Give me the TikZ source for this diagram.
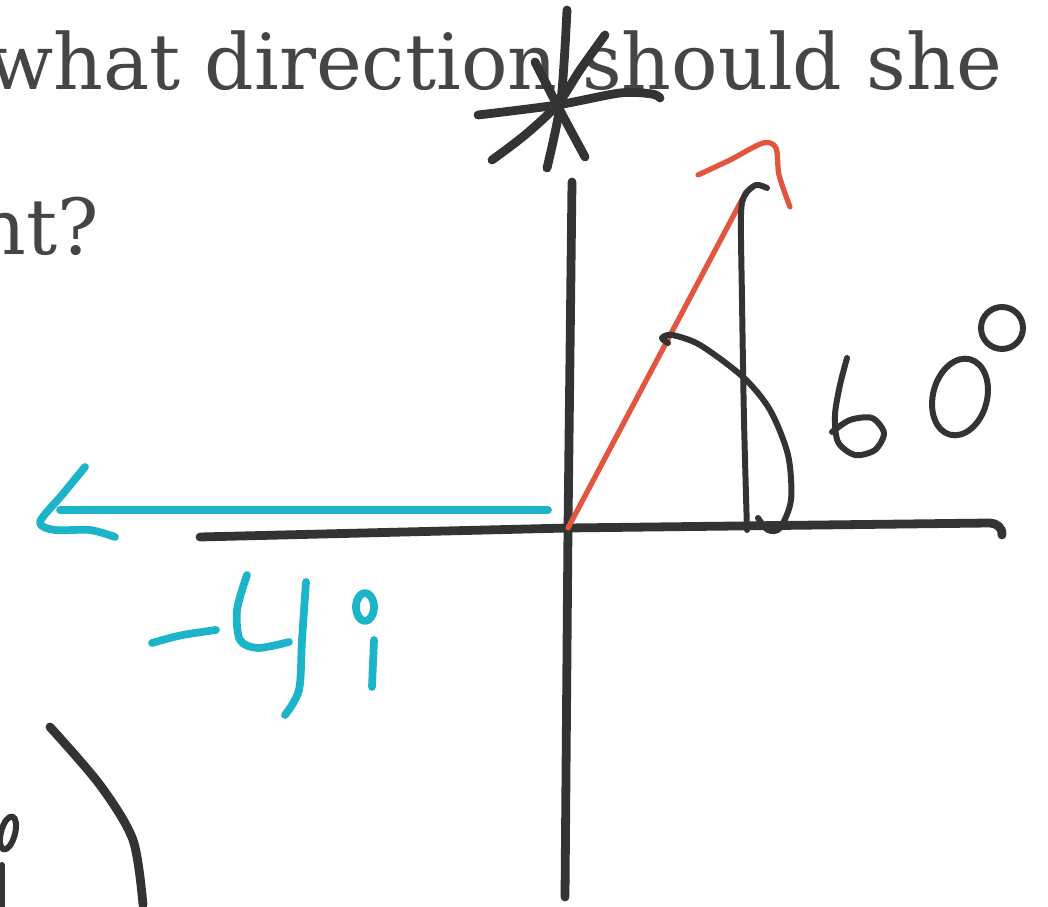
\documentclass[tikz,border=0pt]{standalone}
\usepackage{fontspec}
\newfontfamily\qfont{DejaVu Serif}
\usetikzlibrary{positioning}
\definecolor{inkblack}{HTML}{333333}
\definecolor{inkcyan}{HTML}{1BB4C8}
\definecolor{inkred}{HTML}{E4553F}
\definecolor{textgray}{HTML}{454545}
\tikzset{
  ink/.style      = {draw=inkblack, line width=2.5pt,
                     line cap=round, line join=round},
  thinink/.style  = {ink, line width=1.7pt},
  cyanink/.style  = {draw=inkcyan, line width=2.2pt,
                     line cap=round, line join=round},
  redink/.style   = {draw=inkred, line width=1.5pt,
                     line cap=round, line join=round},
  question/.style = {inner sep=0pt, text=textgray,
                     font=\qfont\fontsize{22}{26}\selectfont},
}

\begin{document}
\begin{tikzpicture}[x=0.01cm, y=-0.01cm]
\useasboundingbox (0,0) rectangle (1048,907);
\clip (0,0) rectangle (1048,907);

% ------------------------------------------------------------
%  printed question (cut off at the left edge)
% ------------------------------------------------------------
\node[question, anchor=base east] (line1) at (1003,90) {what direction should she};
\node[question, anchor=base east] (line2) at (100,255) {nt?};

% ------------------------------------------------------------
%  star at the top of the axis
% ------------------------------------------------------------
\coordinate (star) at (557,105);
\draw[ink] plot[smooth] coordinates {(567,10) (561,100) (547,168)};
\draw[ink] plot[smooth] coordinates {(605,35) (580,70) (star) (525,135) (492,160)};
\draw[ink] (535,62) -- (star) -- (585,157);
\draw[ink] plot[smooth] coordinates {(478,115) (star) (620,93) (652,94) (660,98)};

% ------------------------------------------------------------
%  axes
% ------------------------------------------------------------
\coordinate (O) at (568,528);
\draw[ink] (200,537) -- (O) -- (990,523) to[out=0,in=80] (1002,535);
\draw[ink] (572,182) -- (O) -- (565,897);

% ------------------------------------------------------------
%  red vector and the 60 degree angle
% ------------------------------------------------------------
\coordinate (tip) at (746,192);
\draw[redink] (O) -- (tip);
\draw[redink] plot[smooth] coordinates {(698,175) (730,160) (763,143) (776,148) (779,175) (790,207)};

\draw[thinink] plot[smooth] coordinates {(767,188) (756,185) (745,195) (741,215) (742,300) (744,420) (747,530)};
\draw[thinink] plot[smooth] coordinates {(668,343) (662,338) (672,335) (700,345) (743,377) (770,410) (788,455) (791,500) (780,528) (768,530) (758,518)};

% handwritten 60 deg
\draw[thinink] plot[smooth] coordinates {(847,358) (840,385) (835,415) (838,442) (855,455) (875,450) (884,433) (872,418) (850,420) (832,432)};
\draw[thinink, rotate around={-15:(960,397)}] (960,397) ellipse [x radius=27, y radius=39];
\draw[thinink] (1002,328) circle [radius=21];

% ------------------------------------------------------------
%  cyan vector -4i
% ------------------------------------------------------------
\coordinate (head) at (60,510);
\draw[cyanink] (548,510) -- (head);
\draw[cyanink] plot[smooth] coordinates {(85,467) (62,495) (40,522) (55,530) (90,530) (115,537)};

\draw[cyanink] (152,643) .. controls (180,635) .. (216,630);
\draw[cyanink] plot[smooth] coordinates {(247,575) (237,610) (240,640) (258,648) (289,642)};
\draw[cyanink] plot[smooth] coordinates {(306,582) (302,640) (299,690) (285,715)};
\draw[cyanink] (365,607) ellipse [x radius=9, y radius=14];
\draw[cyanink] (374,640) -- (372,687);

% ------------------------------------------------------------
%  bottom left scraps
% ------------------------------------------------------------
\draw[ink] plot[smooth] coordinates {(50,727) (100,785) (133,840) (143,905)};
\draw[thinink, rotate around={-15:(8,833)}] (8,833) ellipse [x radius=7, y radius=17];
\draw[thinink] (2,865) -- (2,907);

\end{tikzpicture}
\end{document}
